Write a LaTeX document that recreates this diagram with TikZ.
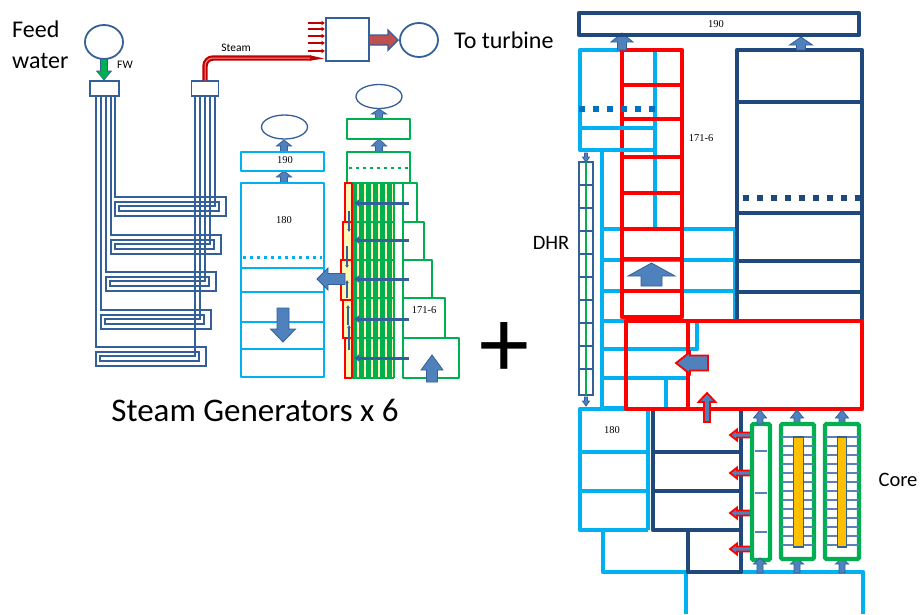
\documentclass[tikz,border=0pt]{standalone}
\usepackage{fontspec}
\usetikzlibrary{arrows.meta,shapes.geometric}
\setmainfont{Carlito}
\newfontfamily\numfont{Liberation Serif}
\definecolor{tubeblue}{HTML}{34609A}
\definecolor{tickblue}{HTML}{5B82B5}
\definecolor{arrowblue}{HTML}{4F81BD}
\definecolor{skyline}{HTML}{00B0F0}
\definecolor{navyline}{HTML}{1F497D}
\definecolor{greenline}{HTML}{00B050}
\definecolor{paleyellow}{HTML}{FFF6B8}
\definecolor{fuelorange}{HTML}{FFC000}
\definecolor{steamred}{HTML}{C00000}
\definecolor{hotarrow}{HTML}{C0504D}
\definecolor{dotblue}{HTML}{0070C0}
\tikzset{
  drum/.style={draw=tubeblue, line width=1.8, fill=white, ellipse, inner sep=0, minimum width=38, minimum height=34},
  tank/.style={draw=tubeblue, line width=1.3, fill=white, ellipse, inner sep=0, minimum width=46, minimum height=24},
  headerbox/.style={draw=tubeblue, line width=1.4, fill=white, inner sep=0},
  tube/.style={draw=tubeblue, line width=1.7},
  skybox/.style={draw=skyline, line width=2.6, line join=round},
  greenbox/.style={draw=greenline, line width=2.6, line join=round},
  skyT/.style={draw=skyline, line width=4.4, line join=round},
  navy/.style={draw=navyline, line width=4.4, line join=round},
  redT/.style={draw=red, line width=4.8, line join=round},
  greenT/.style={draw=greenline, line width=4.4, rounded corners=1.5},
  blockblue/.style={fill=arrowblue, draw=tubeblue, line width=0.8},
  blockred/.style={fill=arrowblue, draw=red, line width=1.8},
  flowline/.style={draw=tubeblue, line width=3, -{Latex[length=5,width=8]}},
  tick/.style={draw=tickblue, line width=1.7},
  bigtext/.style={inner sep=0, font=\fontsize{24}{24}\selectfont},
  numlabel/.style={inner sep=0, font=\numfont\fontsize{10.5}{10.5}\selectfont}
}
\newcommand{\vblock}[7][blockblue]{%
  \draw[#1] (#2,#3) -- (#2+#6,#4) -- (#2+#7,#4) -- (#2+#7,#5) -- (#2-#7,#5) -- (#2-#7,#4) -- (#2-#6,#4) -- cycle;}
\newcommand{\hblock}[7][blockblue]{%
  \draw[#1] (#3,#2) -- (#4,#2+#6) -- (#4,#2+#7) -- (#5,#2+#7) -- (#5,#2-#7) -- (#4,#2-#7) -- (#4,#2-#6) -- cycle;}
\begin{document}
\begin{tikzpicture}[x=1pt,y=-1pt]
  \useasboundingbox (0,0) rectangle (920,614);
  \fill[white] (0,0) rectangle (920,614);

  \node[drum] (fwdrum) at (104,42) {};
  \node[headerbox, minimum width=29, minimum height=15] (fwhead) at (104.5,88.5) {};
  \node[headerbox, minimum width=27, minimum height=15] (outhead) at (205,88.5) {};
  \node[headerbox, minimum width=43, minimum height=43] (turbbox) at (347.5,39.5) {};
  \node[drum] (turbdrum) at (419,40) {};
  \node[bigtext, anchor=base west] (feedtext) at (12,37) {Feed};
  \node[bigtext, anchor=base west] (watertext) at (12,68) {water};
  \node[bigtext, anchor=base west] (turbinetext) at (454,48) {To turbine};
  \node[inner sep=0, font=\fontsize{11.5}{11.5}\selectfont] (fwtext) at (125,65) {FW};
  \node[inner sep=0, font=\fontsize{11.5}{11.5}\selectfont] (steamtext) at (236,48) {Steam};
  \vblock[{fill=greenline, draw=tubeblue, line width=0.6}]{104}{80}{71}{59}{7.5}{3.5}
  \hblock[{fill=hotarrow, draw=tubeblue, line width=1.4}]{40}{398}{388}{369}{10}{5}
  \foreach \yy in {23,29,36,43,51}
    \draw[steamred, line width=2.2, -{Latex[length=3.5,width=5]}] (308,\yy) -- (325,\yy);
  \coordinate (steamend) at (311,58);
  \draw[steamred, line width=5.4, rounded corners=8] (outhead.north) |- (steamend);
  \draw[red!45!white, line width=1, rounded corners=8] (outhead.north) |- (steamend);
  \fill[steamred] (310,55.3) -- (324,58.5) -- (310,60.7) -- cycle;

  \foreach \xin/\xout/\ytop in {115/215/197,111/210/235,106/205/272,101/200/310,96/195/347}
    \draw[tube] (\xin,96) |- (\xout+11,\ytop) |- (\xin,\ytop+19) |- (\xout+4,\ytop+5)
      |- (\xin+4,\ytop+14) |- (\xout,\ytop+9) -- (\xout,96);

  \begin{scope}
    \node[tank] (skytank) at (284.5,127) {};
    \vblock{284}{140}{146}{152}{7.5}{3.5}
    \vblock{284}{171}{177}{183}{7.5}{3.5}
    \draw[skybox] (241,152) rectangle (324,171);
    \draw[skybox] (241,183) rectangle (324,377);
    \foreach \yy in {268,292,322,349}
      \draw[skybox] (241,\yy) -- (324,\yy);
    \draw[skyline, line width=3, dash pattern=on 3 off 4] (243,257) -- (322,257);
    \node[numlabel] (sg190) at (285,160) {190};
    \node[numlabel] (sg180) at (284,220) {180};
    \vblock{283}{342}{329}{308}{12.5}{6}
  \end{scope}

  \begin{scope}
    \node[tank] (greentank) at (379,96.5) {};
    \vblock{379}{109}{114}{119}{7.5}{3.5}
    \vblock{379}{139}{146}{152}{7.5}{3.5}
    \draw[greenbox] (347,119) rectangle (410,139);
    \draw[greenbox] (347,183) -- (347,152) -- (410,152) -- (410,183);
    \draw[greenline, line width=2.8, dash pattern=on 3 off 4] (349,168) -- (408,168);
    \fill[paleyellow] (352,183) rectangle (394,378);
    \foreach \xx in {354.5,361.5,...,390}
      \draw[greenline, line width=4.2] (\xx,183) -- (\xx,378);
    \foreach \yy in {183,222,260,298,338,378}
      \draw[greenbox] (352,\yy) -- (394,\yy);
    \draw[greenbox] (394,183) -- (394,378);
    \foreach \xl/\yt/\yb in {345/183/222,343/222/260,341/260/300,343/300/338,345/338/378}
      \draw[draw=red, fill=paleyellow, line width=2.4] (352,\yt) -- (\xl,\yt) -- (\xl,\yb) -- (352,\yb);
    \draw[draw=red, line width=2.4] (352,183) -- (352,378);
    \foreach \xr/\yt/\yb in {417/183/222,424/222/260,432/260/298,445/298/338,459/338/378}
      \draw[greenbox] (403,\yb) rectangle (\xr,\yt);
    \draw[greenbox] (394,183) -- (417,183);
    \foreach \yy in {203,240,279,319,358}
      \draw[flowline] (409,\yy) -- (354,\yy);
    \foreach \xx/\ya/\yb in {349/211/232,347/246/268,347/298/280,348/325/305,349/350/325}
      \draw[draw=tubeblue, line width=1.6, -{Latex[length=3,width=4]}] (\xx,\ya) -- (\xx,\yb);
    \node[numlabel] (sg171) at (424,310) {171-6};
    \vblock{432}{355}{370}{382}{11}{5.5}
    \hblock{279}{317}{328}{345}{11}{5.5}
  \end{scope}

  \node[inner sep=0, font=\fontsize{33}{33}\selectfont] (sgtext) at (255,410) {Steam Generators x 6};
  \node[inner sep=0, font=\fontsize{100}{100}\selectfont] (plustext) at (504,350) {+};

  \begin{scope}
    \draw[skyT] (622,50) -| (580,150) -- (655,150);
    \draw[skyT] (655,50) -- (655,229);
    \draw[skyT] (602,150) -- (602,408) -- (626,408);
    \foreach \yy in {229,260,291}
      \draw[skyT] (602,\yy) -- (735,\yy);
    \draw[skyT] (735,229) -- (735,321) -- (602,321);
    \draw[skyT] (602,349) -- (697,349) -- (697,321);
    \draw[skyT] (602,378) -- (688,378);
    \draw[skyT] (666,378) -- (666,408);
    \draw[draw=navyline, line width=4.4, line join=round] (737,320) |- (862,50) -- (862,320);
    \foreach \yy in {102,213,261,292}
      \draw[navy] (737,\yy) -- (862,\yy);
    \draw[navyline, line width=6, dash pattern=on 6 off 8] (743,198) -- (862,198);
    \draw[redT] (622,50) rectangle (682,317);
    \foreach \yy in {85,119,157,193,229,259,291}
      \draw[redT] (622,\yy) -- (682,\yy);
    \draw[dotblue, line width=6, dash pattern=on 6 off 8] (579,109) -- (655,109);
    \draw[skyT] (580,128) -- (655,128);
    \draw[skyT] (580,150) -- (655,150);
    \vblock{651.5}{263}{276}{286}{23.5}{10.5}
    \vblock{622}{33}{42}{50}{11}{4.5}
    \vblock{801}{37}{45}{50}{11.5}{4.5}
    \draw[navy] (579,13) rectangle (859,35);
    \node[numlabel] (top190) at (716,24) {190};
    \node[numlabel] (red171) at (701,138) {171-6};
    \node[inner sep=0, font=\fontsize{20.5}{20.5}\selectfont] (dhrtext) at (551,243) {DHR};
  \end{scope}

  \begin{scope}
    \draw[draw=tubeblue, fill=white, line width=1.8] (579,162) rectangle (593,395);
    \draw[greenline, line width=1.8] (586,162) -- (586,395);
    \foreach \yy in {185,208,...,370}
      \draw[draw=tubeblue, line width=1.6] (579,\yy) -- (593,\yy);
    \vblock{586}{162}{157}{153}{3.5}{1.5}
    \vblock{586}{406}{401}{397}{3.5}{1.5}
  \end{scope}

  \begin{scope}
    \draw[skyT] (648,409) -| (580,530) -- (648,530);
    \draw[skyT] (648,409) -- (648,530);
    \foreach \yy in {452,491}
      \draw[skyT] (580,\yy) -- (648,\yy);
    \draw[skyT] (603,530) |- (863,572) -- (863,614);
    \draw[skyT] (686,572) -- (686,614);
    \draw[navy] (653,409) -- (653,530) -- (741,530);
    \draw[navy] (741,409) -- (741,572) -- (688,572) -- (688,530);
    \foreach \yy in {452,491}
      \draw[navy] (653,\yy) -- (741,\yy);
    \node[numlabel] (low180) at (612,430) {180};
  \end{scope}

  \draw[redT] (626,321) rectangle (862,409);
  \draw[redT] (688,321) -- (688,409);
  \hblock[blockred]{363}{676}{690}{708}{11}{7.5}
  \vblock[blockred]{707}{393}{402}{422}{8.5}{3}
  \foreach \yy in {435,473,513,549} {
    \hblock[blockred]{\yy}{730}{737}{752}{5.5}{2.5}
  }

  \begin{scope}
    \draw[greenT] (752,424) rectangle (770,560);
    \foreach \yy in {451,493,532}
      \draw[tick] (755,\yy) -- (767,\yy);
    \foreach \xx in {760,797,842} {
      \vblock{\xx}{410}{418}{424}{6.5}{3}
      \vblock{\xx}{558}{564}{573}{6.5}{3}
    }
  \end{scope}
  \begin{scope}[xshift=781pt]
    \draw[greenT] (0,424) rectangle (33,559);
    \foreach \yy in {437,446,...,546}
      \draw[tick] (0,\yy) -- (33,\yy);
    \draw[draw=tubeblue, fill=fuelorange, line width=1.8] (12.5,437) rectangle (22.5,547);
  \end{scope}
  \begin{scope}[xshift=825pt]
    \draw[greenT] (0,424) rectangle (34,559);
    \foreach \yy in {437,446,...,546}
      \draw[tick] (0,\yy) -- (34,\yy);
    \draw[draw=tubeblue, fill=fuelorange, line width=1.8] (12.5,437) rectangle (21.5,547);
  \end{scope}
  \node[inner sep=0, font=\fontsize{20.5}{20.5}\selectfont] (coretext) at (898,480) {Core};
\end{tikzpicture}
\end{document}
